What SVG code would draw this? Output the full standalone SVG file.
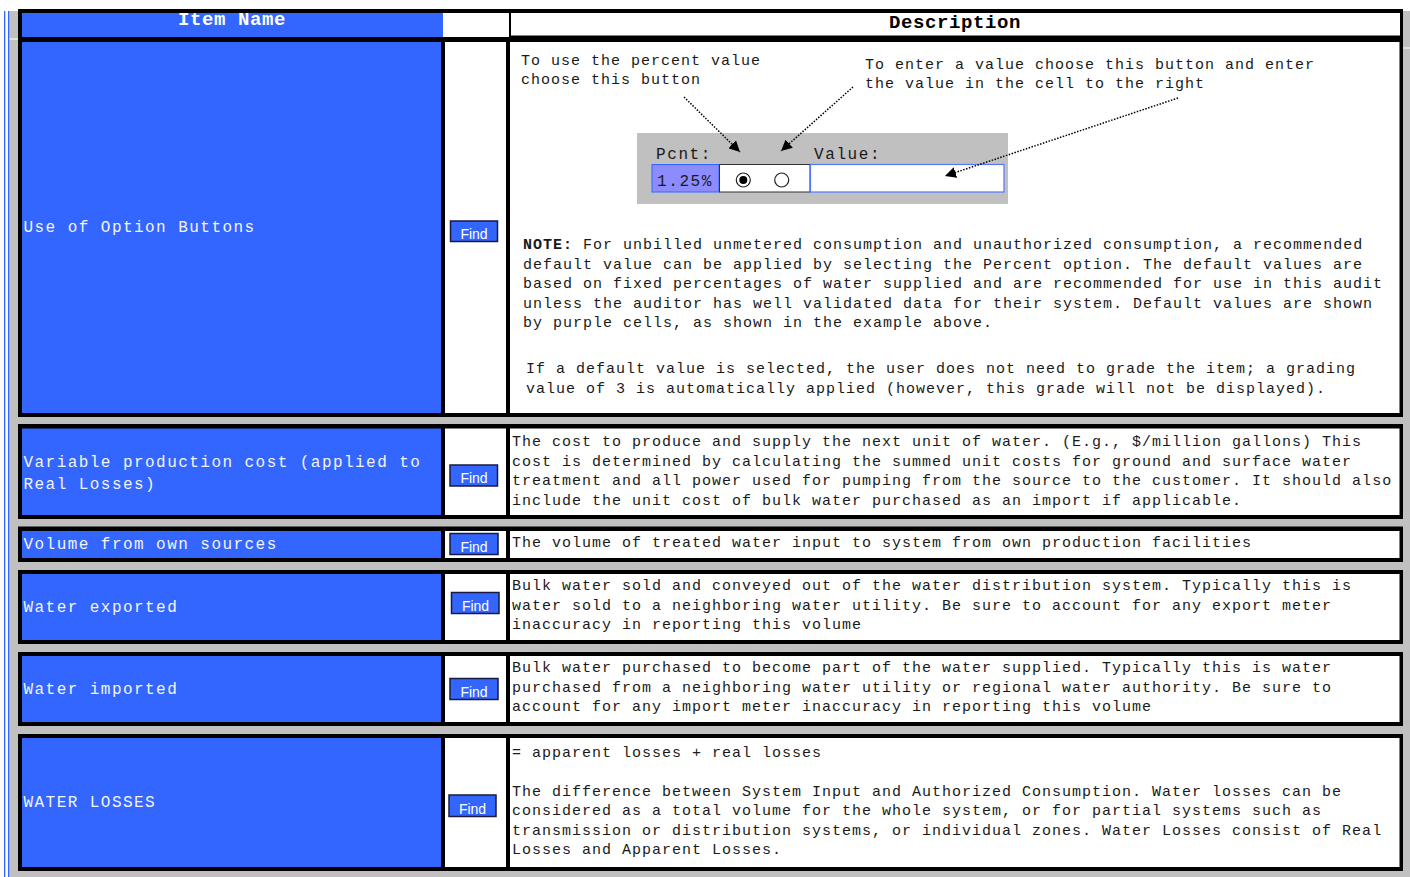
<svg xmlns="http://www.w3.org/2000/svg" width="1410" height="877" viewBox="0 0 1410 877">
<defs>
<style>
.bg{fill:#c0c0c0}
.frame{fill:#000}
.blue{fill:#3366ff}
.white{fill:#fff}
.lbl{font-family:"Liberation Mono",monospace;font-size:16px;letter-spacing:1.45px;fill:#f4f4f4}
.hdr{font-family:"Liberation Mono",monospace;font-size:19px;font-weight:bold;letter-spacing:0.6px}
.desc{font-family:"Liberation Mono",monospace;font-size:15px;letter-spacing:1px;fill:#1a1a1a}
.btn{fill:#3366ff;stroke:#1a1a40;stroke-width:1.5}
.btxt{font-family:"Liberation Sans",Arial,sans-serif;font-size:14px;fill:#fff;text-anchor:middle}
.ctl{font-family:"Liberation Mono",monospace;font-size:16px;letter-spacing:1.6px;fill:#1a1a1a}
.dot{fill:none;stroke:#000;stroke-width:1.5;stroke-dasharray:1.5 1.5}
</style>
<marker id="ah" viewBox="0 0 10 10" refX="10" refY="5" markerWidth="11" markerHeight="11" markerUnits="userSpaceOnUse" orient="auto">
<path d="M0,0 L10,5 L0,10 z" fill="#000"/>
</marker>
</defs>

<!-- background -->
<rect x="0" y="0" width="1410" height="877" fill="#fff"/>
<rect class="bg" x="9.3" y="11" width="1400.7" height="866"/>
<rect x="4" y="11" width="1.3" height="866" fill="#3366ff"/>
<rect x="8" y="11" width="1.3" height="866" fill="#3366ff"/>
<rect x="9.3" y="38.5" width="8.7" height="1" fill="#fff"/>
<rect x="1403" y="47.5" width="7" height="1" fill="#fff"/>

<!-- header -->
<g id="header">
<rect class="frame" x="18" y="9" width="1385" height="408"/>
<rect class="blue" x="22" y="13" width="421" height="24"/>
<rect class="white" x="443" y="13" width="66" height="24"/>
<rect class="white" x="511" y="13" width="889" height="22.5"/>
<text class="hdr" x="232" y="25" fill="#fff" text-anchor="middle">Item Name</text>
<text class="hdr" x="955" y="28" fill="#000" text-anchor="middle">Description</text>
</g>

<!-- row 1 -->
<g id="row-option-buttons">
<rect class="blue" x="22" y="42" width="419" height="371"/>
<rect class="white" x="445" y="42" width="61" height="371"/>
<rect class="white" x="510" y="42" width="889.5" height="371"/>
<text class="lbl" x="23.5" y="232">Use of Option Buttons</text>
<rect class="btn" x="450.5" y="221" width="47" height="20.5"/>
<text class="btxt" x="474" y="239">Find</text>
<text class="desc" x="521" y="65">To use the percent value</text>
<text class="desc" x="521" y="84">choose this button</text>
<text class="desc" x="865" y="69">To enter a value choose this button and enter</text>
<text class="desc" x="865" y="88">the value in the cell to the right</text>
<g id="example-control">
<rect x="637" y="133" width="371" height="71" fill="#c0c0c0"/>
<text class="ctl" x="656" y="159">Pcnt:</text>
<text class="ctl" x="814" y="159">Value:</text>
<rect x="652" y="164.5" width="67" height="27.5" fill="#8c8cff" stroke="#3366ff" stroke-width="1"/>
<text class="ctl" x="657" y="186" fill="#1a1a50">1.25%</text>
<rect x="719.5" y="164.5" width="90.5" height="27.5" fill="#fff" stroke="#333" stroke-width="1"/>
<circle cx="743.3" cy="180" r="7" fill="#fff" stroke="#222" stroke-width="1.2"/>
<circle cx="743.3" cy="180" r="4" fill="#000"/>
<circle cx="781.7" cy="180" r="7" fill="#fff" stroke="#222" stroke-width="1.2"/>
<rect x="810.5" y="164.5" width="193.5" height="27.5" fill="#fff" stroke="#5577ff" stroke-width="1.2"/>
</g>
<text class="desc" x="523" y="249"><tspan font-weight="bold">NOTE:</tspan> For unbilled unmetered consumption and unauthorized consumption, a recommended</text>
<text class="desc" x="523" y="268.5">default value can be applied by selecting the Percent option. The default values are</text>
<text class="desc" x="523" y="288">based on fixed percentages of water supplied and are recommended for use in this audit</text>
<text class="desc" x="523" y="307.5">unless the auditor has well validated data for their system. Default values are shown</text>
<text class="desc" x="523" y="327">by purple cells, as shown in the example above.</text>
<text class="desc" x="526" y="373">If a default value is selected, the user does not need to grade the item; a grading</text>
<text class="desc" x="526" y="392.5">value of 3 is automatically applied (however, this grade will not be displayed).</text>
</g>

<!-- row 2 -->
<g id="row-variable-cost">
<rect class="frame" x="18" y="424" width="1385" height="95"/>
<rect class="blue" x="22" y="428.5" width="419" height="86.5"/>
<rect class="white" x="445" y="428.5" width="61" height="86.5"/>
<rect class="white" x="510" y="428.5" width="889.5" height="86.5"/>
<text class="lbl" x="23.5" y="467">Variable production cost (applied to</text>
<text class="lbl" x="23.5" y="489">Real Losses)</text>
<rect class="btn" x="450" y="465" width="47.5" height="21"/>
<text class="btxt" x="474" y="483">Find</text>
<text class="desc" x="512" y="446">The cost to produce and supply the next unit of water. (E.g., $/million gallons) This</text>
<text class="desc" x="512" y="465.5">cost is determined by calculating the summed unit costs for ground and surface water</text>
<text class="desc" x="512" y="485">treatment and all power used for pumping from the source to the customer. It should also</text>
<text class="desc" x="512" y="504.5">include the unit cost of bulk water purchased as an import if applicable.</text>
</g>

<!-- row 3 -->
<g id="row-own-sources">
<rect class="frame" x="18" y="526.5" width="1385" height="35.5"/>
<rect class="blue" x="22" y="531" width="419" height="27"/>
<rect class="white" x="445" y="531" width="61" height="27"/>
<rect class="white" x="510" y="531" width="889.5" height="27"/>
<text class="lbl" x="23.5" y="549">Volume from own sources</text>
<rect class="btn" x="450" y="533.5" width="48" height="21"/>
<text class="btxt" x="474" y="552">Find</text>
<text class="desc" x="512" y="547">The volume of treated water input to system from own production facilities</text>
</g>

<!-- row 4 -->
<g id="row-water-exported">
<rect class="frame" x="18" y="570" width="1385" height="74"/>
<rect class="blue" x="22" y="574" width="419" height="66"/>
<rect class="white" x="445" y="574" width="61" height="66"/>
<rect class="white" x="510" y="574" width="889.5" height="66"/>
<text class="lbl" x="23.5" y="612">Water exported</text>
<rect class="btn" x="451.5" y="592.5" width="47.5" height="21"/>
<text class="btxt" x="475.5" y="611">Find</text>
<text class="desc" x="512" y="590">Bulk water sold and conveyed out of the water distribution system. Typically this is</text>
<text class="desc" x="512" y="610">water sold to a neighboring water utility. Be sure to account for any export meter</text>
<text class="desc" x="512" y="629">inaccuracy in reporting this volume</text>
</g>

<!-- row 5 -->
<g id="row-water-imported">
<rect class="frame" x="18" y="652" width="1385" height="74"/>
<rect class="blue" x="22" y="656" width="419" height="66"/>
<rect class="white" x="445" y="656" width="61" height="66"/>
<rect class="white" x="510" y="656" width="889.5" height="66"/>
<text class="lbl" x="23.5" y="694">Water imported</text>
<rect class="btn" x="450" y="678.5" width="48" height="21"/>
<text class="btxt" x="474" y="697">Find</text>
<text class="desc" x="512" y="672">Bulk water purchased to become part of the water supplied. Typically this is water</text>
<text class="desc" x="512" y="692">purchased from a neighboring water utility or regional water authority. Be sure to</text>
<text class="desc" x="512" y="711">account for any import meter inaccuracy in reporting this volume</text>
</g>

<!-- row 6 -->
<g id="row-water-losses">
<rect class="frame" x="18" y="734" width="1385" height="137"/>
<rect class="blue" x="22" y="738" width="419" height="129"/>
<rect class="white" x="445" y="738" width="61" height="129"/>
<rect class="white" x="510" y="738" width="889.5" height="129"/>
<text class="lbl" x="23.5" y="807">WATER LOSSES</text>
<rect class="btn" x="449" y="795" width="47" height="21.5"/>
<text class="btxt" x="472.5" y="814">Find</text>
<text class="desc" x="512" y="757">= apparent losses + real losses</text>
<text class="desc" x="512" y="796">The difference between System Input and Authorized Consumption. Water losses can be</text>
<text class="desc" x="512" y="815">considered as a total volume for the whole system, or for partial systems such as</text>
<text class="desc" x="512" y="834.5">transmission or distribution systems, or individual zones. Water Losses consist of Real</text>
<text class="desc" x="512" y="854">Losses and Apparent Losses.</text>
</g>

<!-- connectors -->
<g id="connectors">
<line class="dot" x1="684" y1="97" x2="740" y2="152" marker-end="url(#ah)"/>
<line class="dot" x1="853" y1="87" x2="781" y2="151" marker-end="url(#ah)"/>
<line class="dot" x1="1178" y1="98" x2="945" y2="176" marker-end="url(#ah)"/>
</g>
</svg>
